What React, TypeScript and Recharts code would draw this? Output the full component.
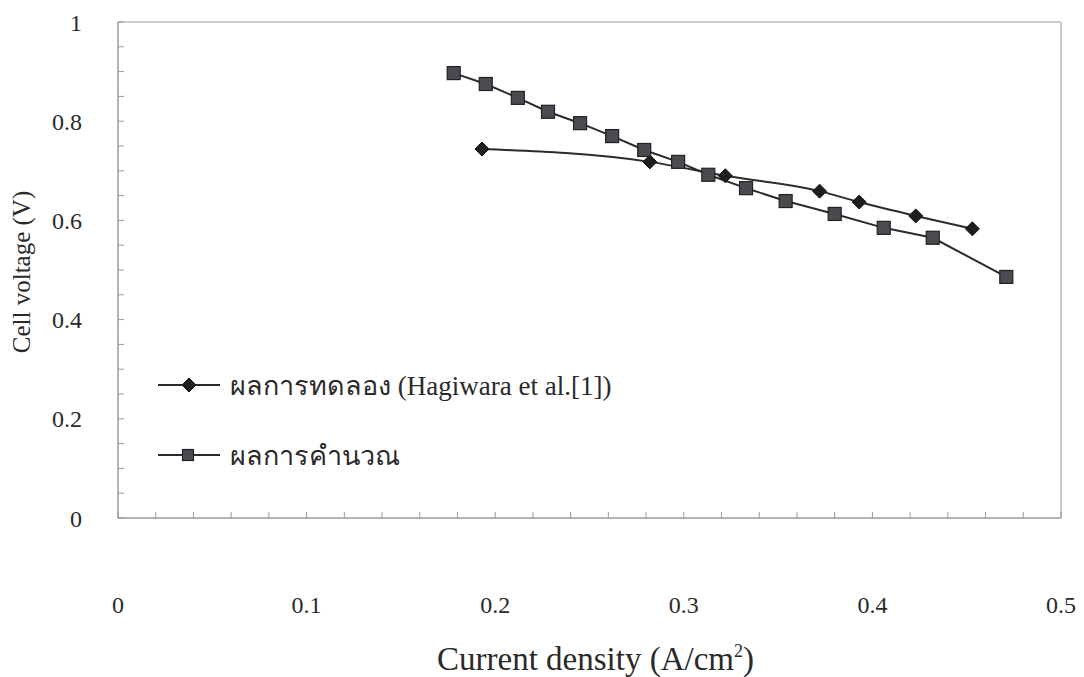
import { ComposedChart, Legend, Line, ReferenceArea, XAxis, YAxis } from "recharts";

// experimental (diamonds) and calculated (squares) polarisation curves
const expCurrent = [0.193, 0.282, 0.322, 0.372, 0.393, 0.423, 0.453];
const expVoltage = [0.744, 0.718, 0.69, 0.659, 0.637, 0.609, 0.583];
const calcCurrent = [
  0.178, 0.195, 0.212, 0.228, 0.245, 0.262, 0.279, 0.297, 0.313, 0.333, 0.354, 0.38, 0.406, 0.432,
  0.471,
];
const calcVoltage = [
  0.897, 0.875, 0.847, 0.819, 0.796, 0.77, 0.742, 0.718, 0.692, 0.665, 0.639, 0.613, 0.585, 0.565,
  0.486,
];
const xMajor = [0, 0.1, 0.2, 0.3, 0.4, 0.5];
const yMajor = [0, 0.2, 0.4, 0.6, 0.8, 1];
const xLabels = ["0", "0.1", "0.2", "0.3", "0.4", "0.5"];
const yLabels = ["0", "0.2", "0.4", "0.6", "0.8", "1"];
const seriesNames = ["ผลการทดลอง (Hagiwara et al.[1])", "ผลการคำนวณ"];

const xMinor = Array.from({ length: 26 }, (_, i) => +(i * 0.02).toFixed(2));
const yMinor = Array.from({ length: 21 }, (_, i) => +(i * 0.05).toFixed(2));

const expData = expCurrent.map((x, i) => ({ x, v: expVoltage[i] }));
const calcData = calcCurrent.map((x, i) => ({ x, v: calcVoltage[i] }));

const font = '"Liberation Serif", "Times New Roman", serif';
const axisGrey = "#9a9a9a";
const ink = "#2b2b2b";
const textColor = "#2a2a2a";

const majorIndex = (list: number[], v: number) => list.findIndex((m) => Math.abs(m - v) < 1e-6);

function XTick(props: any) {
  const i = majorIndex(xMajor, props.payload.value);
  if (i < 0) return null;
  return (
    <text
      x={props.x}
      y={props.y}
      dy="0.71em"
      textAnchor="middle"
      style={{ fontFamily: font, fontSize: 24, fill: textColor }}
    >
      {xLabels[i]}
    </text>
  );
}

function YTick(props: any) {
  const i = majorIndex(yMajor, props.payload.value);
  if (i < 0) return null;
  return (
    <text
      x={props.x}
      y={props.y}
      dy="0.36em"
      textAnchor="end"
      style={{ fontFamily: font, fontSize: 24, fill: textColor }}
    >
      {yLabels[i]}
    </text>
  );
}

function Diamond({ cx, cy, r = 7 }: any) {
  if (cx == null || cy == null) return null;
  return (
    <polygon
      points={`${cx},${cy - r} ${cx + r},${cy} ${cx},${cy + r} ${cx - r},${cy}`}
      fill="#1e1e1e"
      stroke="#111"
      strokeWidth={1}
    />
  );
}

function Square({ cx, cy, s = 13 }: any) {
  if (cx == null || cy == null) return null;
  return (
    <rect x={cx - s / 2} y={cy - s / 2} width={s} height={s} fill="#4a4a50" stroke="#222" strokeWidth={1.2} />
  );
}

function LegendBox({ payload }: any) {
  const items = [...(payload ?? [])].sort(
    (a: any, b: any) => seriesNames.indexOf(a.value) - seriesNames.indexOf(b.value)
  );
  return (
    <div style={{ fontFamily: font, fontSize: 27, color: textColor }}>
      {items.map((p: any) => (
        <div key={p.value} style={{ display: "flex", alignItems: "center", height: 36, marginBottom: 34 }}>
          <svg width={66} height={20} style={{ marginRight: 8 }}>
            <line x1={2} y1={10} x2={64} y2={10} stroke={ink} strokeWidth={2} />
            {p.value === seriesNames[0] ? <Diamond cx={33} cy={10} r={7} /> : <Square cx={32} cy={10} s={11} />}
          </svg>
          <span>{p.value}</span>
        </div>
      ))}
    </div>
  );
}

function XTitle({ viewBox }: any) {
  const cx = viewBox.x + viewBox.width / 2 + 6;
  return (
    <text x={cx} y={670} textAnchor="middle" style={{ fontFamily: font, fontSize: 33, fill: textColor }}>
      Current density (A/cm
      <tspan dy={-13} fontSize={18}>2</tspan>
      <tspan dy={13}>)</tspan>
    </text>
  );
}

function YTitle({ viewBox }: any) {
  const cy = viewBox.y + viewBox.height / 2 + 2;
  return (
    <text
      x={30}
      y={cy}
      transform={`rotate(-90 30 ${cy})`}
      textAnchor="middle"
      style={{ fontFamily: font, fontSize: 25, fill: textColor }}
    >
      Cell voltage (V)
    </text>
  );
}

export default function App() {
  return (
    <div style={{ position: "absolute", left: 0, top: 0, width: 1084, height: 677, background: "#fff" }}>
      <ComposedChart width={1084} height={677} margin={{ top: 22, right: 23, bottom: 0, left: 0 }}>
        <XAxis
          type="number"
          dataKey="x"
          domain={[0, 0.5]}
          ticks={xMinor}
          interval={0}
          allowDataOverflow
          height={159}
          stroke={axisGrey}
          tickSize={-6}
          tickMargin={84}
          tick={<XTick />}
          label={<XTitle />}
        />
        <YAxis
          type="number"
          dataKey="v"
          domain={[0, 1]}
          ticks={yMinor}
          interval={0}
          width={118}
          stroke={axisGrey}
          tickSize={-6}
          tickMargin={42}
          tick={<YTick />}
          label={<YTitle />}
        />
        <ReferenceArea x1={0} x2={0.5} y1={0} y2={1} fill="none" stroke={axisGrey} strokeWidth={1} />
        <Legend
          layout="vertical"
          align="center"
          verticalAlign="middle"
          content={<LegendBox />}
          wrapperStyle={{ left: 156, top: 367, width: 560 }}
        />
        <Line
          data={expData}
          dataKey="v"
          name={seriesNames[0]}
          type="monotone"
          stroke={ink}
          strokeWidth={2}
          dot={(p: any) => <Diamond key={`d${p.index}`} cx={p.cx} cy={p.cy} />}
          activeDot={false}
          isAnimationActive={false}
        />
        <Line
          data={calcData}
          dataKey="v"
          name={seriesNames[1]}
          type="linear"
          stroke={ink}
          strokeWidth={2}
          dot={(p: any) => <Square key={`s${p.index}`} cx={p.cx} cy={p.cy} />}
          activeDot={false}
          isAnimationActive={false}
        />
      </ComposedChart>
    </div>
  );
}
